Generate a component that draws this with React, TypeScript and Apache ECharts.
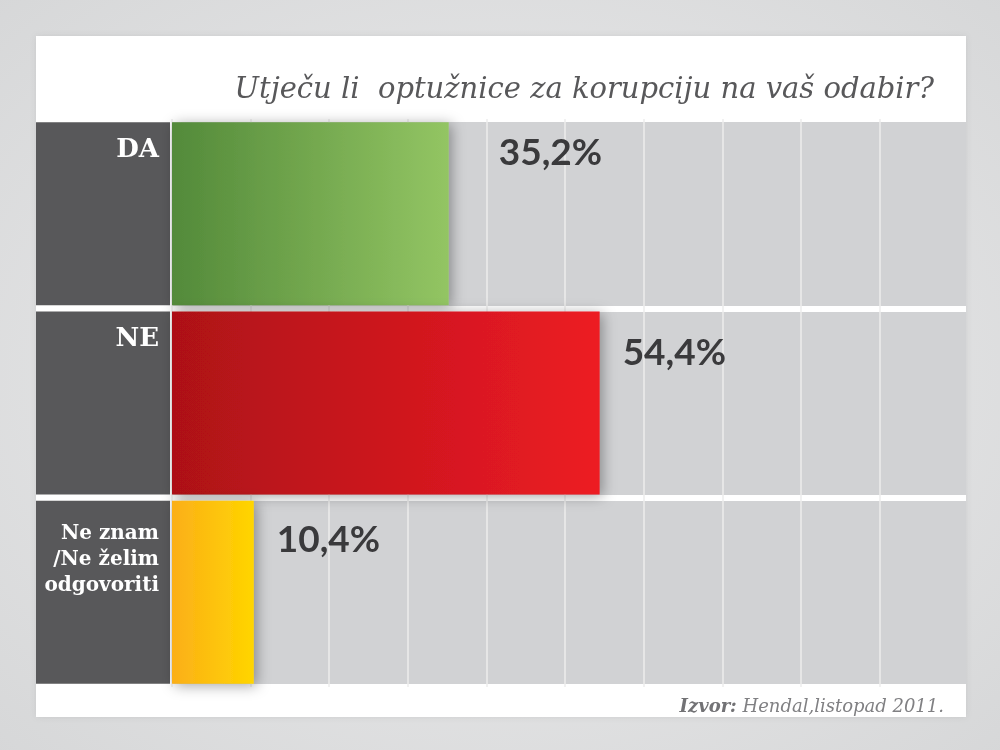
import React, { useEffect, useRef } from "react";
import * as echarts from "echarts";

const categories = ["DA", "NE", "Ne znam\n/Ne želim\nodgovoriti"];
const values = [35.2, 54.4, 10.4];
const valueLabels = ["35,2%", "54,4%", "10,4%"];
const barColors = [
  ["#538a3a", "#93c563"],
  ["#ad1118", "#ed1c24"],
  ["#fbaf18", "#ffd500"],
];
const labelOffsets = [
  [50, -63],
  [23, -53],
  [23, -55],
];
const titleText = "Utječu li  optužnice za korupciju na vaš odabir?";
const sourceBold = "Izvor:";
const sourceText = " Hendal,listopad 2011.";

const xTicks = { min: 0, max: 101, interval: 10 };

export default function App() {
  const ref = useRef<HTMLDivElement>(null);
  useEffect(() => {
    if (!ref.current) return;
    const chart = echarts.init(ref.current, null, { renderer: "svg" });
    const splitColors: string[] = [];
    for (let v = xTicks.min; v <= xTicks.max; v += xTicks.interval) {
      splitColors.push(v >= 100 ? "rgba(255,255,255,0)" : "#ececed");
    }
    splitColors.push("rgba(255,255,255,0)");

    const option: any = {
      animation: false,
      backgroundColor: {
        type: "radial",
        x: 0.5,
        y: 0.5,
        r: 0.75,
        colorStops: [
          { offset: 0, color: "#eeeeef" },
          { offset: 1, color: "#d5d6d7" },
        ],
      },
      graphic: [
        {
          type: "rect",
          z: -10,
          shape: { x: 36, y: 36, width: 930, height: 681 },
          style: { fill: "#ffffff", shadowBlur: 6, shadowColor: "rgba(0,0,0,0.08)" },
        },
        {
          type: "text",
          z: 10,
          x: 934,
          y: 88,
          style: {
            text: titleText,
            fill: "#58585a",
            font: "italic 29px 'DejaVu Serif'",
            align: "right",
            verticalAlign: "middle",
          },
        },
        {
          type: "text",
          z: 10,
          x: 944,
          y: 705,
          style: {
            text: `{b|${sourceBold}}{n|${sourceText}}`,
            align: "right",
            verticalAlign: "middle",
            rich: {
              b: { fill: "#727275", font: "italic bold 18px 'DejaVu Serif'" },
              n: { fill: "#808083", font: "italic 18px 'DejaVu Serif'" },
            },
          },
        },
      ],
      grid: {
        left: 172,
        right: 34,
        top: 119,
        bottom: 63,
        show: true,
        backgroundColor: "#d1d2d4",
        borderWidth: 0,
      },
      xAxis: {
        type: "value",
        min: xTicks.min,
        max: xTicks.max,
        interval: xTicks.interval,
        axisLine: { show: false },
        axisTick: { show: false },
        axisLabel: { show: false },
        splitLine: { show: true, lineStyle: { color: splitColors, width: 1.5 } },
      },
      yAxis: {
        type: "category",
        inverse: true,
        data: categories.map((c, i) =>
          i === 2
            ? {
                value: c,
                textStyle: {
                  padding: [18, 11, 0, 0],
                  height: 165,
                  width: 123,
                },
              }
            : { value: c }
        ),
        axisLine: { show: false },
        axisTick: { show: false },
        splitLine: { show: true, lineStyle: { color: "#ffffff", width: 6 } },
        axisLabel: {
          margin: 2,
          formatter: (v: string) =>
            v.indexOf("\n") >= 0
              ? v
                  .split("\n")
                  .map((s) => `{s|${s}}`)
                  .join("\n")
              : `{a|${v}}`,
          backgroundColor: "#58585a",
          width: 123,
          height: 173,
          padding: [10, 11, 0, 0],
          align: "right",
          overflow: "none",
          rich: {
            a: {
              color: "#ffffff",
              fontFamily: "DejaVu Serif",
              fontWeight: "bold",
              fontSize: 26,
              lineHeight: 31,
              align: "right",
            },
            s: {
              color: "#ffffff",
              fontFamily: "DejaVu Serif",
              fontWeight: "bold",
              fontSize: 20,
              lineHeight: 26,
              align: "right",
            },
          },
        },
      },
      series: [
        {
          type: "bar",
          barWidth: 183,
          data: values.map((v, i) => ({
            value: v,
            itemStyle: {
              color: {
                type: "linear",
                x: 0,
                y: 0,
                x2: 1,
                y2: 0,
                colorStops: [
                  { offset: 0, color: barColors[i][0] },
                  { offset: 1, color: barColors[i][1] },
                ],
              },
            },
            label: {
              show: true,
              position: "right",
              distance: 0,
              offset: labelOffsets[i],
              formatter: valueLabels[i],
            },
          })),
          itemStyle: {
            shadowBlur: 14,
            shadowColor: "rgba(0,0,0,0.35)",
            shadowOffsetX: 3,
            shadowOffsetY: 2,
          },
          label: {
            color: "#3a3a3c",
            fontFamily: "Lato",
            fontWeight: "bold",
            fontSize: 37,
          },
        },
      ],
    };
    chart.setOption(option);
    return () => chart.dispose();
  }, []);
  return (
    <div
      ref={ref}
      style={{ position: "fixed", left: 0, top: 0, width: 1000, height: 750 }}
    />
  );
}
